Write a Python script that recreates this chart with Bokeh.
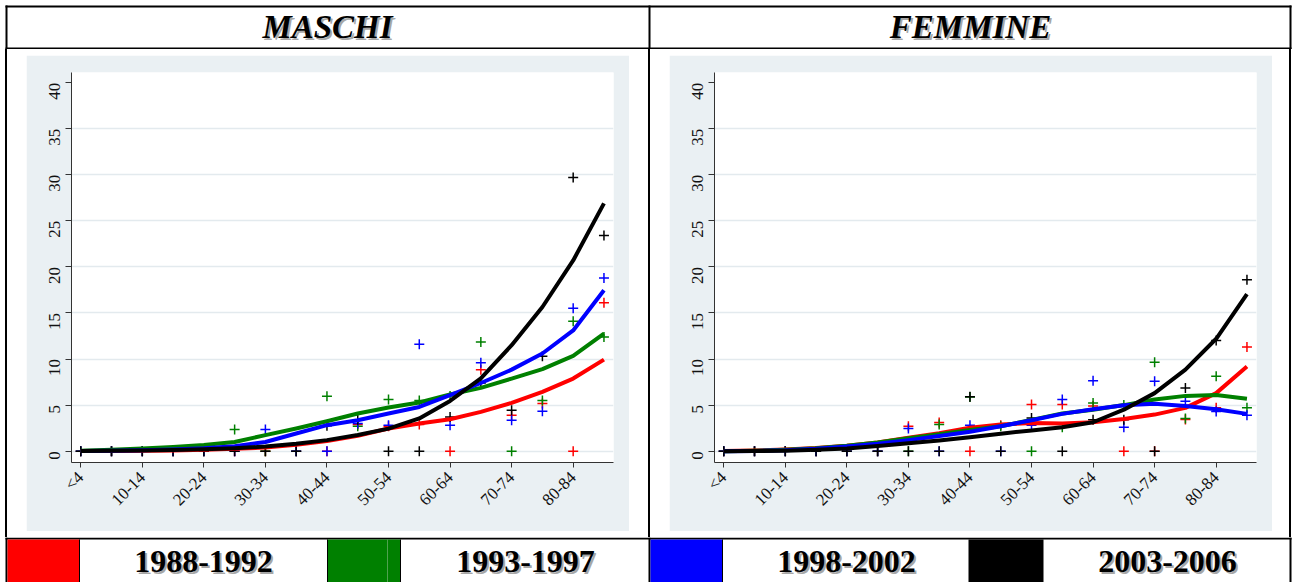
import math
from bokeh.plotting import figure
from bokeh.layouts import column, row
from bokeh.models import Range1d, FixedTicker, Div
from bokeh.core.properties import value
from bokeh.embed import file_html
from bokeh.resources import INLINE

# ---------------- data ----------------
age_groups = ["<4", "5-9", "10-14", "15-19", "20-24", "25-29", "30-34", "35-39",
              "40-44", "45-49", "50-54", "55-59", "60-64", "65-69", "70-74",
              "75-79", "80-84", "85+"]
periods = ["1988-1992", "1993-1997", "1998-2002", "2003-2006"]
panel_titles = ["MASCHI", "FEMMINE"]
colors = ["#ff0000", "#008000", "#0000ff", "#000000"]

# MASCHI - observed rates
m_obs_1988 = [0, 0, 0, 0, 0, 0, 0, 0, 0, 2.9, 2.7, 2.9, 0, 8.85, 3.9, 5.17, 0, 16.1]
m_obs_1993 = [0, 0, 0, 0, 0, 2.35, 0, 0, 5.96, 2.7, 5.6, 5.5, 6.0, 11.85, 0, 5.5, 14.1, 12.4]
m_obs_1998 = [0, 0, 0, 0, 0, 0, 2.35, 0, 0, 3.0, 2.8, 11.6, 2.8, 9.6, 3.36, 4.34, 15.5, 18.8]
m_obs_2003 = [0, 0, 0, 0, 0, 0, 0, 0, 2.75, 3.4, 0, 0, 3.7, 7.4, 4.45, 10.3, 29.7, 23.4]
# MASCHI - fitted curves
m_fit_1988 = [0.01, 0.02, 0.04, 0.08, 0.15, 0.25, 0.4, 0.7, 1.1, 1.66, 2.46, 3.0, 3.47, 4.27, 5.24, 6.44, 7.88, 9.94]
m_fit_1993 = [0.05, 0.15, 0.28, 0.45, 0.68, 1.0, 1.74, 2.46, 3.25, 4.09, 4.74, 5.28, 6.15, 6.87, 7.88, 8.9, 10.34, 12.77]
m_fit_1998 = [0.02, 0.05, 0.1, 0.18, 0.32, 0.54, 1.0, 1.92, 2.82, 3.36, 4.09, 4.8, 6.07, 7.4, 8.85, 10.6, 13.1, 17.46]
m_fit_2003 = [0.02, 0.04, 0.07, 0.12, 0.2, 0.33, 0.5, 0.8, 1.2, 1.75, 2.45, 3.55, 5.45, 7.9, 11.5, 15.65, 20.7, 26.9]

# FEMMINE - observed rates
f_obs_1988 = [0, 0, 0, 0, 0, 0, 2.7, 3.1, 0, 2.8, 5.06, 5.06, 4.9, 0, 0, 3.43, 4.7, 11.3]
f_obs_1993 = [0, 0, 0, 0, 0, 0, 0, 2.9, 5.89, 2.7, 0, 2.6, 5.24, 5.0, 9.64, 3.54, 8.12, 4.7]
f_obs_1998 = [0, 0, 0, 0, 0, 0, 2.45, 0, 2.8, 0, 2.8, 5.6, 7.65, 2.6, 7.6, 5.41, 4.3, 3.9]
f_obs_2003 = [0, 0, 0, 0, 0, 0, 0, 0, 5.9, 0, 3.6, 0, 3.4, 3.4, 0, 6.86, 12.0, 18.6]
# FEMMINE - fitted curves
f_fit_1988 = [0.02, 0.08, 0.18, 0.35, 0.6, 0.95, 1.45, 1.95, 2.55, 2.9, 3.05, 3.0, 3.14, 3.5, 3.97, 4.7, 6.3, 9.2]
f_fit_1993 = [0.0, 0.05, 0.15, 0.32, 0.58, 0.95, 1.4, 1.85, 2.3, 2.7, 3.4, 4.1, 4.5, 5.0, 5.6, 6.0, 6.1, 5.7]
f_fit_1998 = [0.0, 0.03, 0.1, 0.25, 0.5, 0.8, 1.2, 1.65, 2.1, 2.7, 3.36, 4.05, 4.55, 4.98, 5.15, 4.9, 4.55, 4.05]
f_fit_2003 = [0.0, 0.02, 0.05, 0.15, 0.3, 0.55, 0.85, 1.15, 1.5, 1.9, 2.25, 2.6, 3.14, 4.5, 6.3, 8.85, 12.2, 17.05]

y_ticks = [0, 5, 10, 15, 20, 25, 30, 35, 40]

# ---------------- style ----------------
BG = "#eaf0f3"
GRID = "#e3eaee"
SERIF = value("Liberation Serif")
TOTAL_W = 1294
HEAD_H = 49
MID_H = 488
LEG_H = 45


def panel(obs, fit, margin):
    x = list(range(len(age_groups)))
    p = figure(width=603, height=476,
               x_range=Range1d(-0.3, 17.31), y_range=Range1d(-1.23, 41.1),
               output_backend="svg", toolbar_location=None,
               min_border_left=45, min_border_right=16,
               min_border_top=17, min_border_bottom=69,
               background_fill_color="white", border_fill_color=BG,
               outline_line_color=None, margin=margin)
    for s, c in zip(obs, colors):
        p.scatter(x, s, marker="cross", size=10, line_color=c, line_width=1.5)
    for s, c in zip(fit, colors):
        p.line(x, s, line_color=c, line_width=4, line_join="round")

    xa = p.xaxis[0]
    xa.ticker = FixedTicker(ticks=x[0:17:2])
    xa.major_label_overrides = {i: age_groups[i] for i in x[0:17:2]}
    xa.major_label_orientation = math.pi / 4
    xa.major_label_text_font = "Liberation Serif"
    xa.major_label_text_font_size = "17px"
    xa.major_label_text_color = "#111111"
    xa.major_tick_out = 5
    xa.major_tick_in = 0
    xa.minor_tick_out = 0
    xa.minor_tick_in = 0
    xa.major_label_standoff = 7
    xa.axis_line_color = "#333333"
    xa.major_tick_line_color = "#333333"

    ya = p.yaxis[0]
    ya.ticker = FixedTicker(ticks=y_ticks)
    ya.major_label_orientation = math.pi / 2
    ya.major_label_text_font = "Liberation Serif"
    ya.major_label_text_font_size = "17px"
    ya.major_label_text_color = "#111111"
    ya.major_tick_out = 6
    ya.major_tick_in = 0
    ya.minor_tick_out = 0
    ya.minor_tick_in = 0
    ya.major_label_standoff = 11
    ya.axis_line_color = "#333333"
    ya.major_tick_line_color = "#333333"

    p.xgrid.visible = False
    p.ygrid.ticker = FixedTicker(ticks=y_ticks[:-1])
    p.ygrid.grid_line_color = GRID
    p.ygrid.grid_line_width = 1.5
    return p


def strip(height, y_top):
    p = figure(width=TOTAL_W, height=height,
               x_range=Range1d(0, TOTAL_W), y_range=Range1d(y_top + height, y_top),
               output_backend="svg", toolbar_location=None,
               x_axis_type=None, y_axis_type=None, min_border=0,
               background_fill_color="white", border_fill_color="white",
               outline_line_color=None)
    p.xgrid.visible = False
    p.ygrid.visible = False
    return p


def shadow_text(p, x, y, txt, size, style):
    p.text(x=[x + 2], y=[y + 2], text=[txt], text_font=SERIF, text_font_size=size,
           text_font_style=style, text_align="center", text_baseline="middle",
           text_color="#8a8a8a", text_alpha=0.75)
    p.text(x=[x], y=[y], text=[txt], text_font=SERIF, text_font_size=size,
           text_font_style=style, text_align="center", text_baseline="middle",
           text_color="black")


# ---------------- header ----------------
head = strip(HEAD_H, 0)
head.quad(left=[5, 5, 5, 648, 1289], right=[1291, 1291, 7, 650, 1291],
          top=[5, 47, 5, 5, 5], bottom=[7, 49, 49, 49, 49],
          fill_color="black", line_color=None)
shadow_text(head, 327, 26, panel_titles[0], "33px", "bold italic")
shadow_text(head, 970, 26, panel_titles[1], "33px", "bold italic")

# ---------------- panels ----------------
left = panel([m_obs_1988, m_obs_1993, m_obs_1998, m_obs_2003],
             [m_fit_1988, m_fit_1993, m_fit_1998, m_fit_2003], (6, 19, 6, 19))
right = panel([f_obs_1988, f_obs_1993, f_obs_1998, f_obs_2003],
              [f_fit_1988, f_fit_1993, f_fit_1998, f_fit_2003], (6, 17, 6, 19))


def vline(left_gap=0):
    return Div(text="", width=2, height=MID_H, margin=(0, 0, 0, left_gap),
               styles={"background-color": "black"})


mid = row(vline(5), left, vline(), right, vline())

# ---------------- legend strip ----------------
leg = strip(LEG_H, 537)
leg.quad(left=[5, 5, 648, 1289], right=[1291, 7, 650, 1291],
         top=[537, 537, 537, 537], bottom=[539, 582, 582, 582],
         fill_color="black", line_color=None)
box_l = [7, 327, 650, 968]
box_r = [79, 400, 722, 1043]
leg.quad(left=box_l, right=box_r, top=[539] * 4, bottom=[582] * 4,
         fill_color=colors, line_color=None)
leg.segment(x0=[79, 327, 400, 722], x1=[79, 327, 400, 722],
            y0=[539] * 4, y1=[582] * 4, line_color="black", line_width=1)
leg.segment(x0=[387], x1=[387], y0=[539], y1=[582], line_color="#4fa24f", line_width=1)
label_x = [203, 525, 846, 1167]
for lx, lab in zip(label_x, periods):
    shadow_text(leg, lx, 561, lab, "32px", "bold")

root = column(head, mid, leg)
open("out.html", "w").write(file_html(root, INLINE, title="Tassi per età"))
